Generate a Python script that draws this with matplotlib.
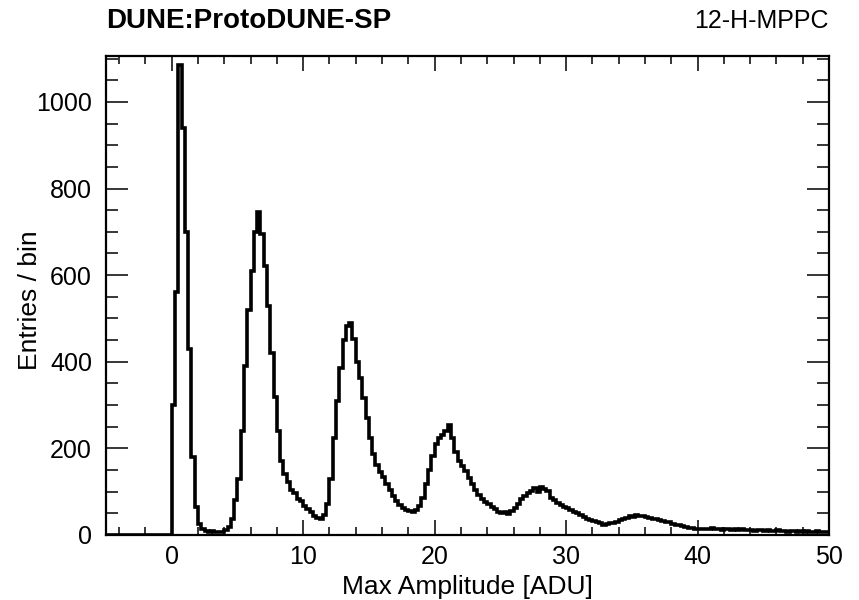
import matplotlib
matplotlib.use("Agg")
import matplotlib.pyplot as plt
import numpy as np
from matplotlib.ticker import MultipleLocator

plt.rcParams['font.family'] = ['Liberation Sans', 'DejaVu Sans']

# histogram binning (ADU) and contents
bin_width = 0.25
x_min, x_max = -5.0, 50.0
empty_below_zero = [0] * 20
counts = [
    300, 560, 1085, 940,   # 0
    700, 430, 180, 65,     # 1
    25, 14, 10, 7,         # 2
    9, 6, 8, 7,            # 3
    12, 18, 36, 80,        # 4
    130, 240, 390, 520,    # 5
    610, 700, 745, 695,    # 6
    620, 528, 420, 318,    # 7
    240, 172, 140, 122,    # 8
    104, 96, 84, 78,       # 9
    66, 60, 52, 45,        # 10
    40, 38, 46, 72,        # 11
    130, 225, 310, 385,    # 12
    450, 482, 490, 452,    # 13
    400, 362, 316, 270,    # 14
    224, 188, 162, 145,    # 15
    135, 118, 104, 90,     # 16
    78, 70, 63, 58,        # 17
    55, 52, 58, 68,        # 18
    86, 118, 150, 182,     # 19
    210, 224, 232, 240,    # 20
    254, 225, 192, 170,    # 21
    160, 148, 132, 118,    # 22
    104, 92, 84, 76,       # 23
    72, 64, 60, 54,        # 24
    50, 52, 49, 56,        # 25
    62, 72, 82, 90,        # 26
    97, 102, 108, 100,     # 27
    110, 106, 102, 86,     # 28
    80, 74, 70, 64,        # 29
    62, 57, 54, 50,        # 30
    46, 42, 38, 35,        # 31
    33, 30, 27, 24,        # 32
    26, 28, 27, 31,        # 33
    34, 38, 40, 43,        # 34
    42, 46, 44, 43,        # 35
    42, 40, 38, 36,        # 36
    34, 33, 30, 29,        # 37
    26, 24, 22, 20,        # 38
    18, 17, 16, 15,        # 39
    14, 15, 13, 14,        # 40
    16, 13, 14, 12,        # 41
    14, 13, 12, 14,        # 42
    11, 13, 12, 11,        # 43
    12, 10, 12, 11,        # 44
    10, 11, 9, 10,         # 45
    11, 9, 10, 8,          # 46
    9, 10, 8, 9,           # 47
    8, 9, 7, 8,            # 48
    9, 7, 8, 8,            # 49
]

values = np.array(empty_below_zero + counts, dtype=float)
edges = np.arange(x_min, x_max + bin_width / 2, bin_width)

fig = plt.figure(figsize=(8.59, 6.0), dpi=100)
ax = fig.add_axes([106 / 859, 65 / 600, 723 / 859, 479 / 600])

ax.stairs(values, edges, baseline=None, color='black', linewidth=2.6)

ax.set_xlim(x_min, x_max)
ax.set_ylim(0, 1106)

# ROOT-like ticks on all sides, pointing in
ax.xaxis.set_major_locator(MultipleLocator(10))
ax.xaxis.set_minor_locator(MultipleLocator(2))
ax.yaxis.set_major_locator(MultipleLocator(200))
ax.yaxis.set_minor_locator(MultipleLocator(50))
ax.tick_params(axis='both', which='both', direction='in', top=True, right=True,
               width=1.1, labelsize=18)
ax.tick_params(axis='x', which='major', length=11, pad=7)
ax.tick_params(axis='x', which='minor', length=5.5)
ax.tick_params(axis='y', which='major', length=16, pad=10)
ax.tick_params(axis='y', which='minor', length=8.5)
for sp in ax.spines.values():
    sp.set_linewidth(1.6)

ax.set_xlabel('Max Amplitude [ADU]', fontsize=19)
ax.xaxis.set_label_coords(0.5, -0.084)
ax.set_ylabel('Entries / bin', fontsize=19)
ax.yaxis.set_label_coords(-0.088, 0.49)

fig.text(106 / 859, 572 / 600, 'DUNE:ProtoDUNE-SP', fontsize=20, fontweight='bold',
         ha='left', va='baseline')
fig.text(829 / 859, 572 / 600, '12-H-MPPC', fontsize=18, ha='right', va='baseline')

fig.savefig('out.png', dpi=100)
